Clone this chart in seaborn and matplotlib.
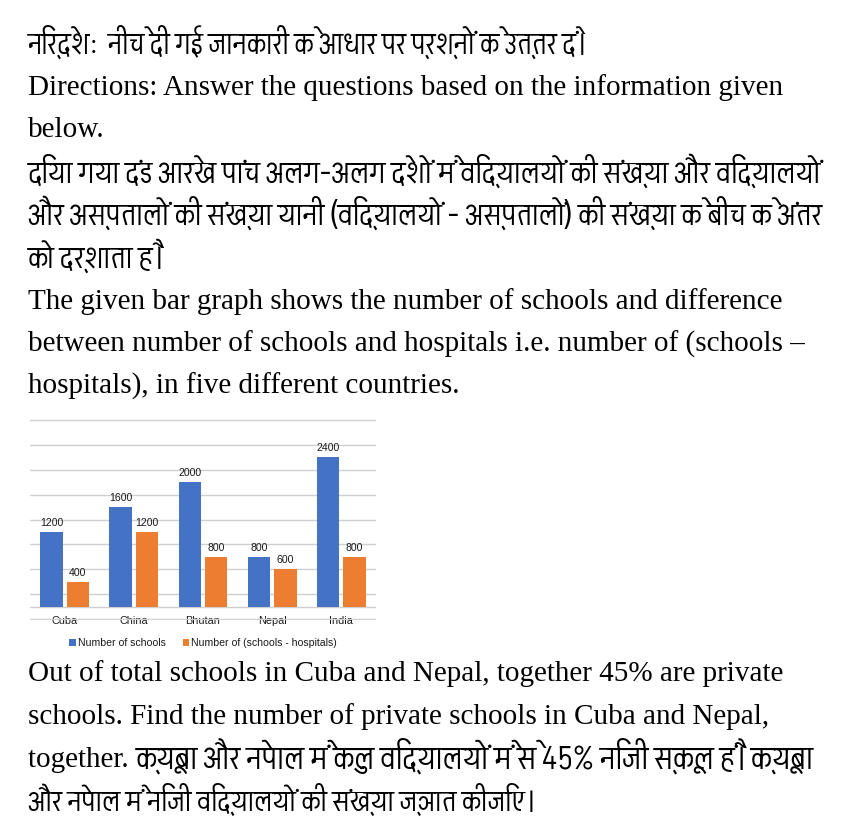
import matplotlib
matplotlib.use("Agg")
import matplotlib.pyplot as plt
import seaborn as sns
import pandas as pd
from matplotlib import font_manager
from matplotlib.ft2font import FT2Font

# ---------------- data ----------------
countries = ["Cuba", "China", "Bhutan", "Nepal", "India"]
schools = [1200, 1600, 2000, 800, 2400]
diff_sh = [400, 1200, 800, 600, 800]
series_names = ["Number of schools", "Number of (schools - hospitals)"]

# (text, centre-y px, right edge px in reference for Hindi lines)
lines = [
    ("निर्देश:  नीचे दी गई जानकारी के आधार पर प्रश्नों के उत्तर दें।", 43, 588),
    ("Directions: Answer the questions based on the information given", 86, None),
    ("below.", 128, None),
    ("दिया गया दंड आरेख पांच अलग-अलग देशों में विद्यालयों की संख्या और विद्यालयों", 172, 820),
    ("और अस्पतालों की संख्या यानी (विद्यालयों - अस्पतालों) की संख्या के बीच के अंतर", 214, 822),
    ("को दर्शाता है।", 257, 163),
    ("The given bar graph shows the number of schools and difference", 300, None),
    ("between number of schools and hospitals i.e. number of (schools –", 343, None),
    ("hospitals), in five different countries.", 385, None),
    ("Out of total schools in Cuba and Nepal, together 45% are private", 672, None),
    ("schools. Find the number of private schools in Cuba and Nepal,", 715, None),
    ("और नेपाल में निजी विद्यालयों की संख्या ज्ञात कीजिए।", 800, 535),
]
mixed_en = "together. "
mixed_hi = "क्यूबा और नेपाल में कुल विद्यालयों में से 45% निजी स्कूल हैं। क्यूबा"
mixed_y, mixed_right = 758, 815

# ---------------- fonts ----------------
deva_found = []
for f in font_manager.fontManager.ttflist:
    try:
        cmap = FT2Font(f.fname).get_charmap()
    except Exception:
        continue
    if 0x0928 in cmap:
        deva_found.append(f.name)
deva = None
for pref in ["Akshar", "FreeSans", "FreeSerif"]:
    if pref in deva_found:
        deva = pref
        break
if deva is None and deva_found:
    deva = deva_found[0]

serif_fam = ["Liberation Serif"] + ([deva] if deva else []) + ["DejaVu Sans"]
hindi_fam = ([deva] if deva else []) + ["Liberation Serif", "DejaVu Sans"]

sns.set_theme(style="white")
plt.rcParams["font.family"] = ["Liberation Sans", "DejaVu Sans"]

W, H = 845, 827
fig = plt.figure(figsize=(W / 100, H / 100), dpi=100, facecolor="white")
renderer = fig.canvas.get_renderer()

def px(x, y):
    return x / W, 1 - y / H

FS = 21
X0 = 28

def fit_text(x, y, s, right, fam, base=FS):
    t = fig.text(*px(x, y), s, fontsize=base, va="baseline", ha="left",
                 family=fam, color="black")
    w = t.get_window_extent(renderer).width
    t.set_fontsize(base * (right - x) / w)
    return t

for s, y, right in lines:
    if right is None:
        fig.text(*px(X0, y + 9), s, fontsize=FS, va="baseline", ha="left",
                 family=serif_fam, color="black")
    else:
        fit_text(X0, y + 11, s, right, hindi_fam)

t_en = fig.text(*px(X0, mixed_y + 9), mixed_en, fontsize=FS, va="baseline",
                ha="left", family=serif_fam, color="black")
en_w = t_en.get_window_extent(renderer).width
fit_text(X0 + en_w, mixed_y + 10, mixed_hi, mixed_right, hindi_fam)

# ---------------- chart ----------------
df = pd.DataFrame({
    "Country": countries * 2,
    "Value": schools + diff_sh,
    "Series": [series_names[0]] * len(countries) + [series_names[1]] * len(countries),
})

ax = fig.add_axes([30 / W, 1 - 620.1 / H, 346 / W, (620.1 - 418.9) / H])
sns.barplot(data=df, x="Country", y="Value", hue="Series",
            palette=["#4472C4", "#ED7D31"], saturation=1, width=0.76, gap=0.15,
            linewidth=0, ax=ax, legend=True, zorder=3)
ax.set_ylim(-210, 3010)
ax.set_xlim(-0.5, len(countries) - 0.5)
ax.set_yticks([-200, 0, 200, 600, 1000, 1400, 1800, 2200, 2600, 3000])
ax.yaxis.grid(True, color="#d0d0d0", linewidth=1.0, zorder=0)
ax.set_axisbelow(True)
ax.tick_params(axis="y", left=False, labelleft=False)
ax.tick_params(axis="x", length=0, pad=-3, labelsize=7.8, colors="#1a1a1a")
for sp in ax.spines.values():
    sp.set_visible(False)
ax.set_xlabel("")
ax.set_ylabel("")
ax.set_facecolor("none")
for cont in ax.containers:
    ax.bar_label(cont, fmt="%d", padding=3, fontsize=7.6, color="#1a1a1a")

leg = ax.legend(loc="center", bbox_to_anchor=(0.5, (620.1 - 643) / (620.1 - 418.9)),
                ncol=2, frameon=False, fontsize=7.6, handlelength=0.6,
                handleheight=0.6, handletextpad=0.2, columnspacing=1.6,
                borderaxespad=0)
for t in leg.get_texts():
    t.set_color("#1a1a1a")

fig.savefig("out.png", dpi=100, facecolor="white")
